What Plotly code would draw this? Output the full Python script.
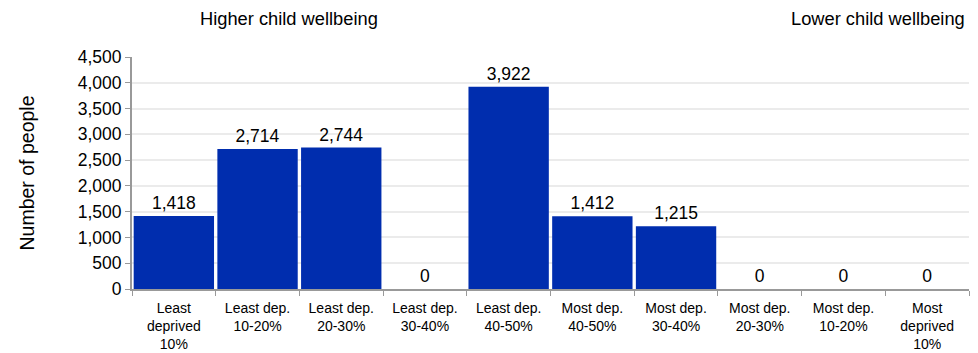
import plotly.graph_objects as go

categories = [
    "Least<br>deprived<br>10%", "Least dep.<br>10-20%", "Least dep.<br>20-30%",
    "Least dep.<br>30-40%", "Least dep.<br>40-50%", "Most dep.<br>40-50%",
    "Most dep.<br>30-40%", "Most dep.<br>20-30%", "Most dep.<br>10-20%",
    "Most<br>deprived<br>10%",
]
people = [1418, 2714, 2744, 0, 3922, 1412, 1215, 0, 0, 0]
y_ticks = [0, 500, 1000, 1500, 2000, 2500, 3000, 3500, 4000, 4500]

FONT = "Liberation Sans, Arial, sans-serif"

fig = go.Figure(go.Bar(
    x=categories,
    y=people,
    marker=dict(color="#002DAE", line=dict(width=0)),
    text=[f"{v:,}" for v in people],
    textposition="outside",
    textfont=dict(size=17.5, color="#000000", family=FONT),
    cliponaxis=False,
))

fig.update_layout(
    width=978, height=353,
    margin=dict(l=132, r=9, t=57, b=64),
    paper_bgcolor="white", plot_bgcolor="white",
    bargap=0.04,
    showlegend=False,
    font=dict(family=FONT, color="#000000"),
    xaxis=dict(
        automargin=False,
        tickfont=dict(size=14),
        showline=True, linecolor="#999999", linewidth=2,
        ticks="outside", tickson="boundaries", ticklen=5, tickcolor="#999999",
        ticklabelstandoff=5,
        showgrid=False,
    ),
    yaxis=dict(
        automargin=False,
        range=[0, 4500],
        tickvals=y_ticks,
        ticktext=[f"{v:,}" for v in y_ticks],
        tickfont=dict(size=17.5),
        showline=True, linecolor="#999999", linewidth=2,
        ticks="outside", ticklen=5, tickcolor="#999999",
        showgrid=True, gridcolor="#EBEBEB", gridwidth=1.5,
        zeroline=False,
        title=dict(text="Number of people", font=dict(size=19.5), standoff=38),
    ),
    annotations=[
        dict(text="Higher child wellbeing", xref="paper", yref="paper",
             x=(289 - 132) / 837, y=1, yshift=39, xanchor="center", yanchor="middle",
             showarrow=False, font=dict(size=18.3)),
        dict(text="Lower child wellbeing", xref="paper", yref="paper",
             x=(967 - 132) / 837, y=1, yshift=39, xanchor="right", yanchor="middle",
             showarrow=False, font=dict(size=18.3)),
    ],
)

fig.write_html("out.html")
